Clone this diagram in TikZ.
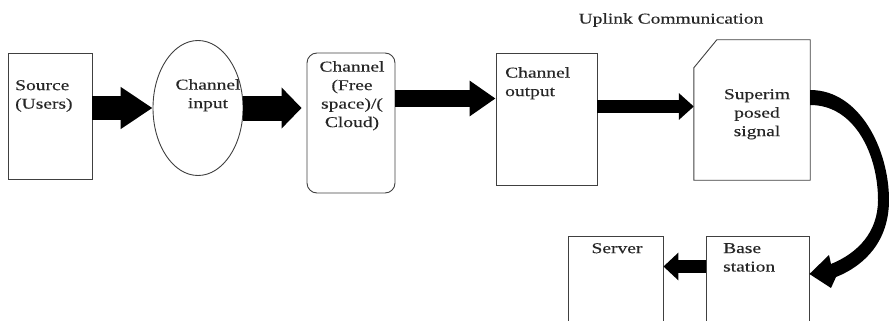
\documentclass[tikz,border=0pt]{standalone}
\usepackage{fontspec}
\setmainfont[FakeStretch=1.3,FakeBold=0.3]{Liberation Serif}
\usetikzlibrary{shapes.geometric,arrows.meta,positioning}

\begin{document}
\begin{tikzpicture}[x=1pt, y=-1pt,
    box/.style={draw=black!75, line width=0.9pt, inner sep=0pt},
    txt/.style={inner sep=0pt, align=center, text=black!85,
      font=\fontsize{15}{18.5}\selectfont},
    blockarrow/.style n args={3}{line width=#1,
      -{Triangle[length=#2, width=#3]}}]
    \clip (0,0) rectangle (889,321);

    % blocks
    \node[box, minimum width=84pt, minimum height=126pt] (src) at (50,116) {};
    \node[box, ellipse, minimum width=90pt, minimum height=135pt] (chin) at (198,108) {};
    \node[box, rounded corners=10pt, minimum width=88pt, minimum height=140pt] (free) at (351,123) {};
    \node[box, minimum width=101pt, minimum height=132pt] (chout) at (546.5,119) {};
    \node[inner sep=0pt, minimum width=116pt, minimum height=140pt] (sup) at (752,110) {};
    \draw[black!75, line width=0.9pt] (sup.south west) -- ([yshift=-28pt]sup.north west)
      -- ([xshift=23pt]sup.north west) -- (sup.north east) -- (sup.south east) -- cycle;
    \node[box, minimum width=103pt, minimum height=104pt] (base) at (757.5,288) {};
    \node[box, minimum width=95pt, minimum height=104pt] (server) at (615.5,288) {};

    % texts
    \node[txt, align=left, anchor=north west] (srctxt) at (15,80) {Source\\(Users)};
    \node[txt, anchor=north] (chintxt) at (208,79) {Channel\\input};
    \node[txt, anchor=north] (freetxt) at (352,61) {Channel\\(Free\\space)/(\\Cloud)};
    \node[txt, align=left, anchor=north west] (chouttxt) at (505,67) {Channel\\output};
    \node[txt, anchor=north] (suptxt) at (757,89) {Superim\\posed\\signal};
    \node[txt, align=left, anchor=north west] (basetxt) at (723,243) {Base\\station};
    \node[txt, anchor=north] (servertxt) at (617,243) {Server};
    \node[txt, anchor=north] (title) at (671,13) {Uplink Communication};

    % arrows
    \draw[blockarrow={24pt}{32pt}{40pt}] (src.east |- chin.west) -- (chin.west);
    \draw[blockarrow={25pt}{20pt}{40pt}] (chin.east) -- ([xshift=-5pt]free.west |- chin.east);
    \draw[blockarrow={17pt}{26pt}{34pt}] ([yshift=24.5pt]free.east) -- ([yshift=20.5pt]chout.west);
    \draw[blockarrow={13pt}{15pt}{26pt}] ([yshift=12.5pt]chout.east) -- ([yshift=3.5pt]sup.west);
    \draw[blockarrow={13pt}{15pt}{27pt}] ([yshift=21.5pt]base.west) -- ([yshift=21.5pt]server.east);

    % curved arrow, tapering
    \fill ([yshift=20pt]sup.east) .. controls (860,90) and (889,150) .. (889,200)
      .. controls (889,240) and (866,265) .. (836,277) -- (831,288)
      -- ([yshift=14pt]base.east) -- (829,255) -- (831,264)
      .. controls (858,253) and (878,232) .. (878,200)
      .. controls (878,155) and (855,105) .. ([yshift=5pt]sup.east) -- cycle;
\end{tikzpicture}
\end{document}
